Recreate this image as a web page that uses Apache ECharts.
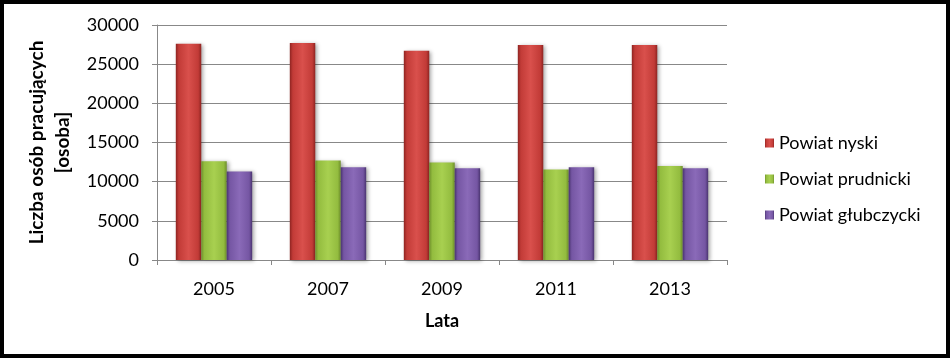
<!DOCTYPE html>
<html><head><meta charset="utf-8">
<script src="https://cdn.jsdelivr.net/npm/echarts@6/dist/echarts.min.js"></script>
<style>html,body{margin:0;padding:0;background:#fff}#c{width:950px;height:358px}</style>
</head><body><div id="c"></div>
<script>
const categories = ['2005','2007','2009','2011','2013'];
const seriesNames = ['Powiat nyski','Powiat prudnicki','Powiat głubczycki'];
const nyski = [27600, 27700, 26700, 27450, 27450];
const prudnicki = [12600, 12700, 12450, 11550, 12000];
const glubczycki = [11300, 11850, 11700, 11850, 11700];
const yTicks = [0, 5000, 10000, 15000, 20000, 25000, 30000];

const F = 'Lato, "Liberation Sans", sans-serif';
function grad(dark, mid, light){
  return new echarts.graphic.LinearGradient(0,0,1,0,[
    {offset:0,color:dark},{offset:0.12,color:mid},{offset:0.5,color:light},{offset:0.88,color:mid},{offset:1,color:dark}]);
}
const styles = [
  {c: grad('#8E2421','#C23B37','#D9504C')},
  {c: grad('#6E8F2A','#93BC3F','#A8D050')},
  {c: grad('#4A3470','#7556A3','#8A6AB8')}
];
const data = [nyski, prudnicki, glubczycki];
const chart = echarts.init(document.getElementById('c'));
chart.setOption({
  animation:false,
  backgroundColor:'#fff',
  graphic:[{type:'rect',shape:{x:0,y:0,width:950,height:358},style:{fill:'none',stroke:'#000',lineWidth:8},z:100}],
  grid:{left:157,right:223,top:25,bottom:98},
  legend:{orient:'vertical',left:760,top:129,itemGap:18,itemWidth:9,itemHeight:9,icon:'rect',
    textStyle:{fontFamily:F,fontSize:18,color:'#000'},data:seriesNames},
  xAxis:{type:'category',data:categories,
    name:'Lata',nameLocation:'middle',nameGap:52,
    nameTextStyle:{fontFamily:F,fontSize:18,fontWeight:'bold',color:'#000'},
    axisLine:{lineStyle:{color:'#888'}},
    axisTick:{show:true,length:5,lineStyle:{color:'#888'}},
    axisLabel:{fontFamily:F,fontSize:18,color:'#000',margin:20}},
  yAxis:{type:'value',min:yTicks[0],max:yTicks[yTicks.length-1],interval:5000,
    name:'Liczba osób pracujących\n[osoba]',nameLocation:'middle',nameGap:70,
    nameTextStyle:{fontFamily:F,fontSize:19,fontWeight:'bold',color:'#000',lineHeight:26,align:'center'},
    axisLine:{show:true,lineStyle:{color:'#888'}},
    axisTick:{show:true,length:5,lineStyle:{color:'#888'}},
    splitLine:{lineStyle:{color:'#888'}},
    axisLabel:{fontFamily:F,fontSize:18,color:'#000',margin:18,formatter:v=>String(v)}},
  series: seriesNames.map((n,i)=>({
    name:n,type:'bar',data:data[i],barGap:'0%',barCategoryGap:'33%',
    itemStyle:{color:styles[i].c,shadowBlur:4,shadowOffsetX:2,shadowOffsetY:1,shadowColor:'rgba(0,0,0,0.35)'}
  }))
});
</script></body></html>
